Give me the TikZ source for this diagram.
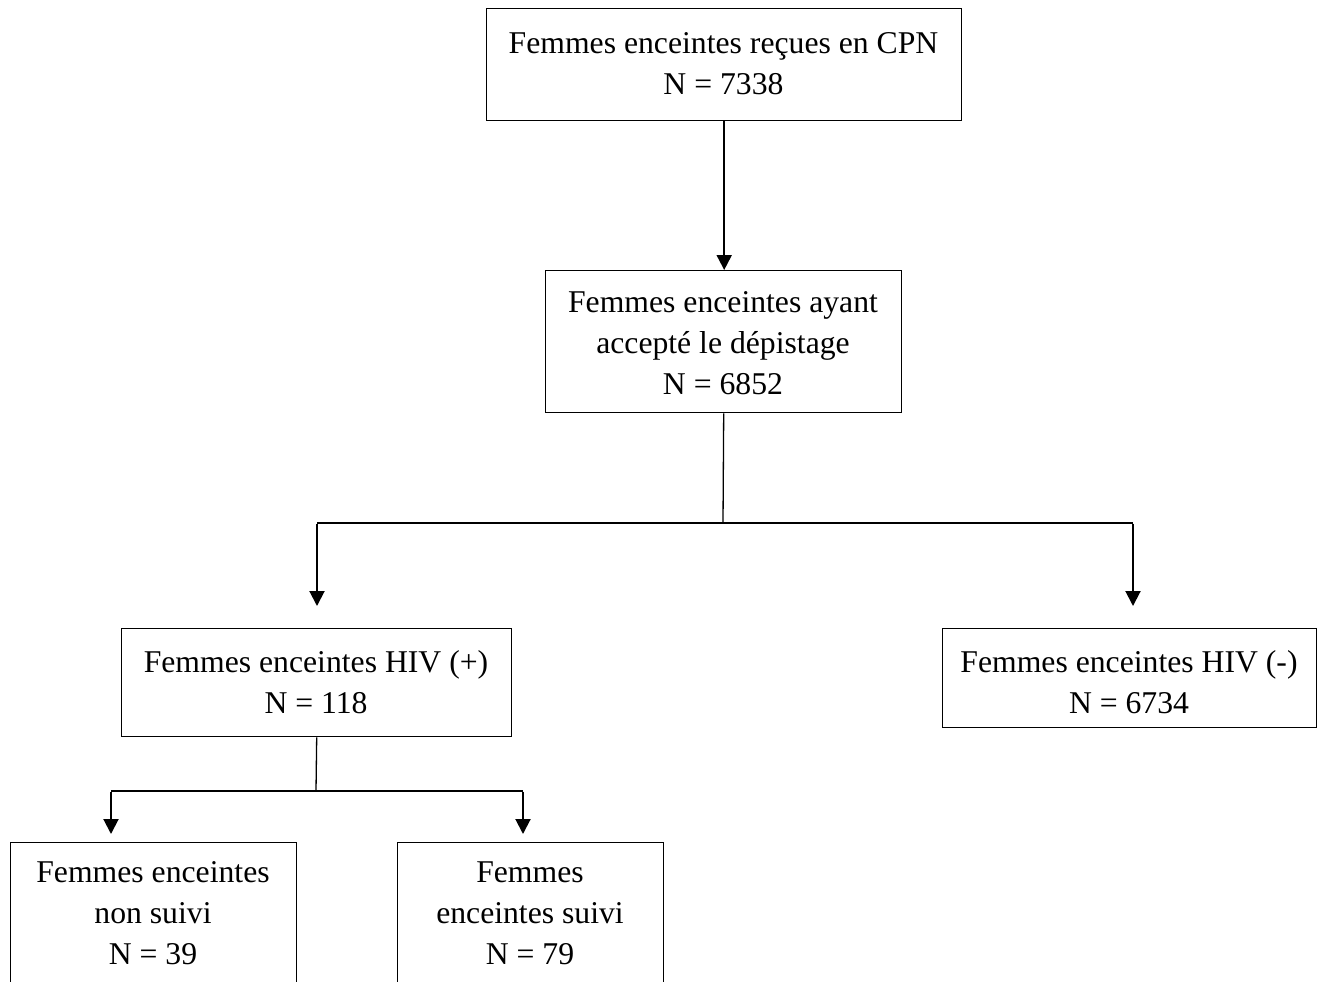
\documentclass[tikz,border=0pt]{standalone}
\usepackage{fontspec}
\setmainfont{Liberation Serif}
\usetikzlibrary{arrows.meta}
\begin{document}
\begin{tikzpicture}[x=1pt,y=-1pt,
  box/.style={draw, line width=1.4pt, rectangle, inner sep=0pt, anchor=north west},
  txt/.style={align=center, inner sep=0pt, font=\fontsize{31.7pt}{41pt}\selectfont},
  link/.style={line width=1.3pt},
  arr/.style={line width=2pt, -{Triangle[width=15pt,length=15pt]}}]
\clip (0,0) rectangle (1325,982);
\fill[white] (0,0) rectangle (1325,982);
% boxes
\node[box, minimum width=475pt, minimum height=112pt] (b1) at (486,8) {};
\node[box, minimum width=356pt, minimum height=142pt] (b2) at (545,270) {};
\node[box, minimum width=390pt, minimum height=108pt] (b3) at (121,628) {};
\node[box, minimum width=374pt, minimum height=99pt] (b4) at (942,628) {};
\node[box, minimum width=286pt, minimum height=170pt] (b5) at (10,842) {};
\node[box, minimum width=266pt, minimum height=170pt] (b6) at (397,842) {};
% texts
\node[txt] (t1) at (723.5,64) {Femmes enceintes reçues en CPN\\N = 7338};
\node[txt] (t2) at (723,343) {Femmes enceintes ayant\\accepté le dépistage\\N = 6852};
\node[txt] (t3) at (316,682) {Femmes enceintes HIV (+)\\N = 118};
\node[txt] (t4) at (1129,682) {Femmes enceintes HIV (-)\\N = 6734};
\node[txt] (t5) at (153,913) {Femmes enceintes\\non suivi\\N = 39};
\node[txt] (t6) at (530,913) {Femmes\\enceintes suivi\\N = 79};
% connectors
\coordinate (j1) at (723,523);
\coordinate (jl) at (317,523);
\coordinate (jr) at (1133,523);
\coordinate (al) at (317,606);
\coordinate (ar) at (1133,606);
\coordinate (j2) at (316,791);
\coordinate (kl) at (111,791);
\coordinate (kr) at (523,791);
\coordinate (bl) at (111,834);
\coordinate (br) at (523,834);
\draw[arr] (b1.south) -- (b1.south |- b2.north);
\draw[link] (b2.south) -- (j1);
\draw[link] (jl) -- (jr);
\draw[arr] ([yshift=-0.6pt]jl) -- (al);
\draw[arr] ([yshift=-0.6pt]jr) -- (ar);
\draw[link] (b3.south) -- (j2);
\draw[link] (kl) -- (kr);
\draw[arr] ([yshift=-0.6pt]kl) -- (bl);
\draw[arr] ([yshift=-0.6pt]kr) -- (br);
\end{tikzpicture}
\end{document}
